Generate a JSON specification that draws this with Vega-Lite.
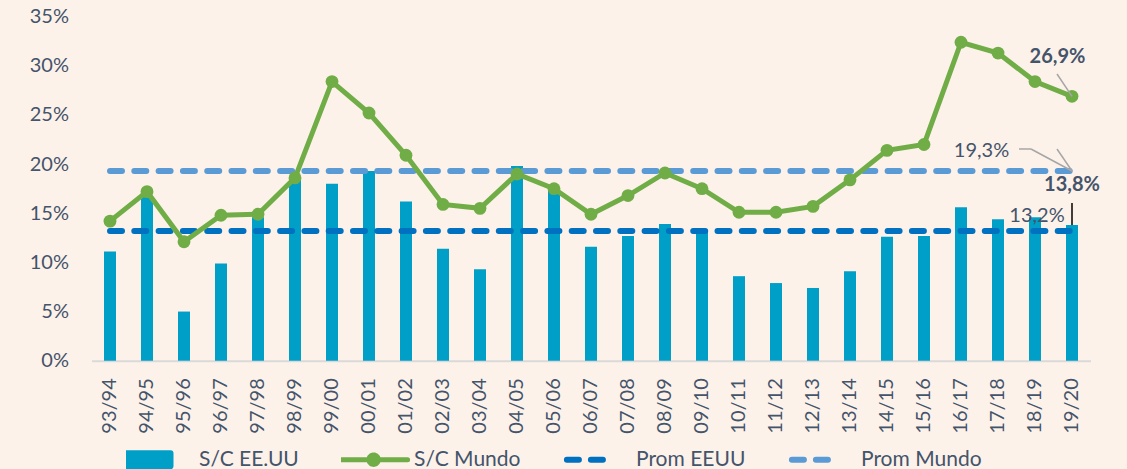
{
  "$schema": "https://vega.github.io/schema/vega-lite/v6.json",
  "width": 999,
  "height": 344,
  "autosize": {"type": "none"},
  "padding": {"left": 91.5, "top": 16.7, "right": 36.5, "bottom": 108.3},
  "background": "#FDF2EA",
  "config": {
    "view": {"stroke": null},
    "font": "Lato",
    "axis": {"labelFont": "Lato", "labelFontSize": 20, "labelColor": "#44546A", "ticks": false, "grid": false, "title": null},
    "legend": {"labelFont": "Lato", "labelFontSize": 21, "labelColor": "#44546A"}
  },
  "data": {
    "values": [
      {"c": "93/94", "us": 11.1, "w": 14.2, "pu": 13.2, "pw": 19.3},
      {"c": "94/95", "us": 16.7, "w": 17.2, "pu": 13.2, "pw": 19.3},
      {"c": "95/96", "us": 5.0, "w": 12.1, "pu": 13.2, "pw": 19.3},
      {"c": "96/97", "us": 9.9, "w": 14.8, "pu": 13.2, "pw": 19.3},
      {"c": "97/98", "us": 14.6, "w": 14.9, "pu": 13.2, "pw": 19.3},
      {"c": "98/99", "us": 18.4, "w": 18.6, "pu": 13.2, "pw": 19.3},
      {"c": "99/00", "us": 18.0, "w": 28.4, "pu": 13.2, "pw": 19.3},
      {"c": "00/01", "us": 19.3, "w": 25.2, "pu": 13.2, "pw": 19.3},
      {"c": "01/02", "us": 16.2, "w": 20.9, "pu": 13.2, "pw": 19.3},
      {"c": "02/03", "us": 11.4, "w": 15.9, "pu": 13.2, "pw": 19.3},
      {"c": "03/04", "us": 9.3, "w": 15.5, "pu": 13.2, "pw": 19.3},
      {"c": "04/05", "us": 19.8, "w": 19.0, "pu": 13.2, "pw": 19.3},
      {"c": "05/06", "us": 17.4, "w": 17.5, "pu": 13.2, "pw": 19.3},
      {"c": "06/07", "us": 11.6, "w": 14.9, "pu": 13.2, "pw": 19.3},
      {"c": "07/08", "us": 12.7, "w": 16.8, "pu": 13.2, "pw": 19.3},
      {"c": "08/09", "us": 13.9, "w": 19.1, "pu": 13.2, "pw": 19.3},
      {"c": "09/10", "us": 13.3, "w": 17.5, "pu": 13.2, "pw": 19.3},
      {"c": "10/11", "us": 8.6, "w": 15.1, "pu": 13.2, "pw": 19.3},
      {"c": "11/12", "us": 7.9, "w": 15.1, "pu": 13.2, "pw": 19.3},
      {"c": "12/13", "us": 7.4, "w": 15.7, "pu": 13.2, "pw": 19.3},
      {"c": "13/14", "us": 9.1, "w": 18.4, "pu": 13.2, "pw": 19.3},
      {"c": "14/15", "us": 12.6, "w": 21.4, "pu": 13.2, "pw": 19.3},
      {"c": "15/16", "us": 12.7, "w": 22.0, "pu": 13.2, "pw": 19.3},
      {"c": "16/17", "us": 15.6, "w": 32.4, "pu": 13.2, "pw": 19.3},
      {"c": "17/18", "us": 14.4, "w": 31.3, "pu": 13.2, "pw": 19.3},
      {"c": "18/19", "us": 14.6, "w": 28.4, "pu": 13.2, "pw": 19.3},
      {"c": "19/20", "us": 13.8, "w": 26.9, "pu": 13.2, "pw": 19.3}
    ]
  },
  "encoding": {
    "x": {
      "field": "c", "type": "nominal", "sort": null,
      "scale": {"paddingInner": 0, "paddingOuter": 0},
      "axis": {"labelAngle": -90, "labelPadding": 17, "domainColor": "#D9D9D9", "domainWidth": 2}
    }
  },
  "layer": [
    {
      "mark": {"type": "bar", "width": 12},
      "encoding": {
        "y": {"field": "us", "type": "quantitative",
          "scale": {"domain": [0, 35], "nice": false},
          "axis": {"values": [0, 5, 10, 15, 20, 25, 30, 35], "labelExpr": "datum.value + '%'", "domain": false, "labelPadding": 23}},
        "color": {"datum": "S/C EE.UU", "type": "nominal",
          "scale": {"domain": ["S/C EE.UU", "S/C Mundo", "Prom EEUU", "Prom Mundo"], "range": ["#009FC7", "#70AD47", "#0070C0", "#5B9BD5"]},
          "legend": {
            "orient": "none", "legendX": 34.5, "legendY": 432, "direction": "horizontal", "title": null,
            "clipHeight": 22, "columnPadding": 42, "labelOffset": 52, "symbolSize": 4624,
            "encode": {
              "symbols": {"update": {
                "shape": {"signal": "datum.value === 'S/C EE.UU' ? 'M-1,-0.19H1V0.19H-1Z' : datum.value === 'S/C Mundo' ? 'M-0.35,0H1.65M0.79,0L0.771,0.07L0.72,0.121L0.65,0.14L0.58,0.121L0.529,0.07L0.51,0L0.529,-0.07L0.58,-0.121L0.65,-0.14L0.72,-0.121L0.771,-0.07Z' : 'M-0.9,0H0.9'"},
                "fill": {"signal": "datum.value === 'S/C EE.UU' || datum.value === 'S/C Mundo' ? scale('color', datum.value) : 'transparent'"},
                "stroke": {"signal": "datum.value === 'S/C EE.UU' ? 'transparent' : scale('color', datum.value)"},
                "strokeWidth": {"signal": "datum.value === 'S/C Mundo' ? 5 : 6"},
                "strokeDash": {"signal": "datum.value === 'Prom EEUU' || datum.value === 'Prom Mundo' ? [12, 12] : [1, 0]"},
                "strokeCap": {"value": "round"},
                "strokeJoin": {"value": "round"},
                "opacity": {"value": 1}
              }}
            }
          }
        }
      }
    },
    {
      "mark": {"type": "line", "strokeWidth": 6, "strokeDash": [12, 12.3], "strokeCap": "round"},
      "encoding": {"y": {"field": "pu", "type": "quantitative"}, "color": {"datum": "Prom EEUU", "type": "nominal"}}
    },
    {
      "mark": {"type": "line", "strokeWidth": 6, "strokeDash": [12, 12.3], "strokeCap": "round"},
      "encoding": {"y": {"field": "pw", "type": "quantitative"}, "color": {"datum": "Prom Mundo", "type": "nominal"}}
    },
    {
      "mark": {"type": "line", "strokeWidth": 5, "point": {"filled": true, "size": 165, "opacity": 1}},
      "encoding": {"y": {"field": "w", "type": "quantitative"}, "color": {"datum": "S/C Mundo", "type": "nominal"}}
    },
    {
      "data": {"values": [
        {"c": "19/20", "a": 26.9, "b": 29.17, "k": "g"},
        {"c": "19/20", "a": 19.3, "b": 21.54, "k": "g"}
      ]},
      "mark": {"type": "rule", "color": "#A6A6A6", "strokeWidth": 1.5, "x2Offset": -15},
      "encoding": {"y": {"field": "a", "type": "quantitative"}, "y2": {"field": "b"}, "x2": {"field": "c"}}
    },
    {
      "data": {"values": [{"c": "19/20", "a": 19.3, "b": 21.54}]},
      "mark": {"type": "rule", "color": "#A6A6A6", "strokeWidth": 1.5, "x2Offset": -41},
      "encoding": {"y": {"field": "a", "type": "quantitative"}, "y2": {"field": "b"}, "x2": {"field": "c"}}
    },
    {
      "data": {"values": [{"c": "19/20", "a": 21.54}]},
      "mark": {"type": "rule", "color": "#A6A6A6", "strokeWidth": 1.5, "xOffset": -53, "x2Offset": -41},
      "encoding": {"y": {"field": "a", "type": "quantitative"}, "x2": {"field": "c"}}
    },
    {
      "data": {"values": [{"c": "19/20", "a": 13.8, "b": 16.04}]},
      "mark": {"type": "rule", "color": "#000000", "strokeWidth": 1.5},
      "encoding": {"y": {"field": "a", "type": "quantitative"}, "y2": {"field": "b"}}
    },
    {
      "data": {"values": [{"c": "19/20", "v": 26.9, "t": "26,9%"}]},
      "mark": {"type": "text", "fontSize": 20, "fontWeight": "bold", "color": "#44546A", "dx": -14.5, "dy": -39, "align": "center", "baseline": "middle"},
      "encoding": {"y": {"field": "v", "type": "quantitative"}, "text": {"field": "t"}}
    },
    {
      "data": {"values": [{"c": "19/20", "v": 19.3, "t": "19,3%"}]},
      "mark": {"type": "text", "fontSize": 20, "color": "#44546A", "dx": -90.5, "dy": -20, "align": "center", "baseline": "middle"},
      "encoding": {"y": {"field": "v", "type": "quantitative"}, "text": {"field": "t"}}
    },
    {
      "data": {"values": [{"c": "19/20", "v": 13.8, "t": "13,8%"}]},
      "mark": {"type": "text", "fontSize": 20, "fontWeight": "bold", "color": "#44546A", "dx": 0, "dy": -40, "align": "center", "baseline": "middle"},
      "encoding": {"y": {"field": "v", "type": "quantitative"}, "text": {"field": "t"}}
    },
    {
      "data": {"values": [{"c": "19/20", "v": 13.2, "t": "13,2%"}]},
      "mark": {"type": "text", "fontSize": 20, "color": "#44546A", "dx": -35, "dy": -15, "align": "center", "baseline": "middle"},
      "encoding": {"y": {"field": "v", "type": "quantitative"}, "text": {"field": "t"}}
    }
  ]
}
